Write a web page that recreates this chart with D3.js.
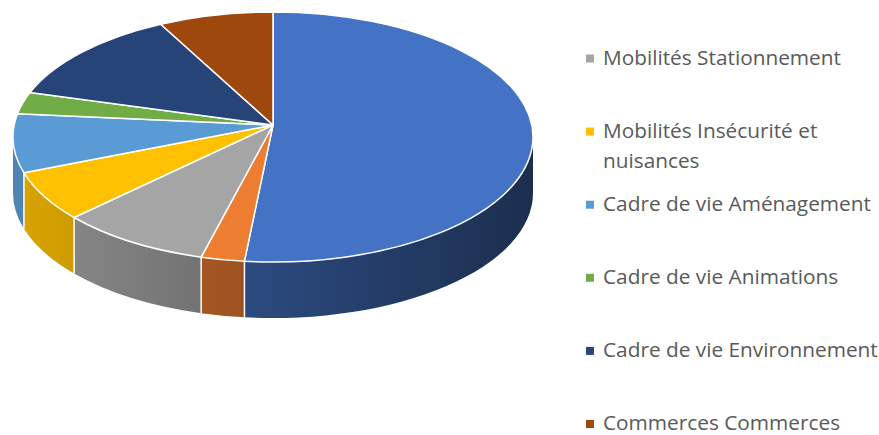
<!DOCTYPE html>
<html>
<head>
<meta charset="utf-8">
<script src="https://cdn.jsdelivr.net/npm/d3@7"></script>
<style>
  html, body { margin: 0; padding: 0; background: #fff; }
  svg { display: block; }
</style>
</head>
<body>
<svg id="chart" width="879" height="435"></svg>
<script>
// ---- data ----
const categories = [
  "Mobilités Circulation",
  "Mobilités Transports",
  "Mobilités Stationnement",
  "Mobilités Insécurité et nuisances",
  "Cadre de vie Aménagement",
  "Cadre de vie Animations",
  "Cadre de vie Environnement",
  "Commerces Commerces"
];
const values = [51.7, 2.7, 9.4, 6.5, 7.6, 2.8, 12.1, 7.1];
const colors = ["#4472C4", "#ED7D31", "#A5A5A5", "#FFC000", "#5B9BD5", "#70AD47", "#264478", "#9E480E"];
// legend only shows entries from this index (the first ones are scrolled out)
const legendStart = 2;
const legendLines = [
  ["Mobilités Circulation"],
  ["Mobilités Transports"],
  ["Mobilités Stationnement"],
  ["Mobilités Insécurité et", "nuisances"],
  ["Cadre de vie Aménagement"],
  ["Cadre de vie Animations"],
  ["Cadre de vie Environnement"],
  ["Commerces Commerces"]
];

// ---- geometry ----
const cx = 273, cy = 137, rx = 260, ry = 125, depth = 56;
const apex = [273, 125];
const svg = d3.select("#chart");

const data = categories.map((c, i) => ({ name: c, value: values[i], color: colors[i], i }));
const arcs = d3.pie().sort(null).value(d => d.value).startAngle(0).endAngle(2 * Math.PI)(data);

const rim = (t, dy = 0) => [cx + rx * Math.sin(t), cy - ry * Math.cos(t) + dy];

const defs = svg.append("defs");
function shade(col, k) {
  const c = d3.rgb(col);
  return d3.rgb(c.r * k, c.g * k, c.b * k).formatHex();
}
data.forEach(d => {
  const g = defs.append("linearGradient")
    .attr("id", "side" + d.i)
    .attr("gradientUnits", "userSpaceOnUse")
    .attr("x1", cx - rx).attr("x2", cx + rx).attr("y1", 0).attr("y2", 0);
  g.append("stop").attr("offset", 0).attr("stop-color", shade(d.color, 0.86));
  g.append("stop").attr("offset", 1).attr("stop-color", shade(d.color, 0.40));
});

// sides
const sides = svg.append("g");
const sepLines = [];
arcs.forEach(a => {
  const s0 = Math.max(a.startAngle, Math.PI / 2);
  const s1 = Math.min(a.endAngle, 3 * Math.PI / 2);
  if (s0 >= s1) return;
  const p0 = rim(s0), p1 = rim(s1), q1 = rim(s1, depth), q0 = rim(s0, depth);
  const path = `M${p0[0]},${p0[1]} A${rx},${ry} 0 0 1 ${p1[0]},${p1[1]} L${q1[0]},${q1[1]} A${rx},${ry} 0 0 0 ${q0[0]},${q0[1]} Z`;
  sides.append("path").attr("d", path).attr("fill", `url(#side${a.data.i})`);
  if (a.startAngle > Math.PI / 2 && a.startAngle < 3 * Math.PI / 2) sepLines.push(a.startAngle);
});
sepLines.forEach(t => {
  const p = rim(t), q = rim(t, depth);
  sides.append("line").attr("x1", p[0]).attr("y1", p[1]).attr("x2", q[0]).attr("y2", q[1])
    .attr("stroke", "#fff").attr("stroke-width", 1.5);
});

// top faces
const tops = svg.append("g");
arcs.forEach(a => {
  const p0 = rim(a.startAngle), p1 = rim(a.endAngle);
  const large = (a.endAngle - a.startAngle) > Math.PI ? 1 : 0;
  const path = `M${apex[0]},${apex[1]} L${p0[0]},${p0[1]} A${rx},${ry} 0 ${large} 1 ${p1[0]},${p1[1]} Z`;
  tops.append("path").attr("d", path).attr("fill", a.data.color)
    .attr("stroke", "#fff").attr("stroke-width", 1.5).attr("stroke-linejoin", "round");
});

// legend
const legend = svg.append("g").attr("font-family", "'Open Sans', sans-serif").attr("font-size", 20.8).attr("fill", "#595959");
const legendItems = data.slice(legendStart);
const legendY = d3.scalePoint().domain(legendItems.map(d => d.name)).range([64.5, 430]);
legendItems.forEach(d => {
  const y = legendY(d.name);
  legend.append("rect").attr("x", 586).attr("y", y - 10).attr("width", 8).attr("height", 8).attr("fill", d.color);
  legendLines[d.i].forEach((line, k) => {
    legend.append("text").attr("x", 603).attr("y", y + k * 30).text(line);
  });
});
</script>
</body>
</html>
